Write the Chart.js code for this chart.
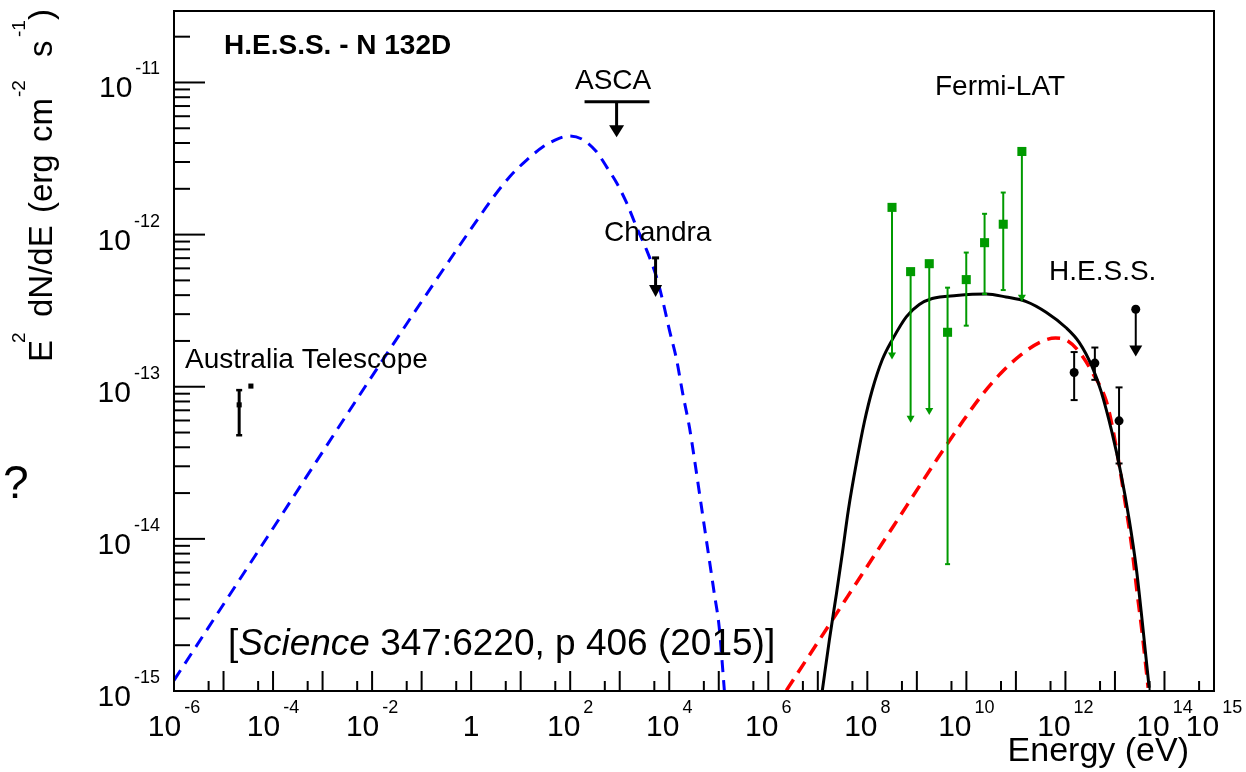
<!DOCTYPE html>
<html><head><meta charset="utf-8">
<script src="https://cdn.jsdelivr.net/npm/chart.js@4/dist/chart.umd.min.js"></script>
<style>html,body{margin:0;padding:0;background:#fff;}canvas{display:block;}</style>
</head><body>
<canvas id="c" width="1246" height="772"></canvas>
<script>
// ---------------- DATA (Energy in eV, E^2 dN/dE in erg cm^-2 s^-1) ----------------
// Synchrotron model (blue dashed)
const syncE = [1e-6, 1e-4, 1e-2, 0.1, 0.589, 1.49, 2.72, 6.0, 13.2, 27.8, 61.2, 97.5, 178, 341, 543, 865, 1374, 2188, 3483, 5546, 7328, 1.014e4, 1.406e4, 1.86e4, 2.57e4, 3.24e4, 4.07e4, 5.13e4, 6.46e4, 8.13e4, 1.02e5, 1.30e5];
const syncF = [1.175e-15, 1.175e-14, 1.175e-13, 3.63e-13, 8.51e-13, 1.318e-12, 1.738e-12, 2.40e-12, 3.09e-12, 3.76e-12, 4.31e-12, 4.45e-12, 4.22e-12, 3.50e-12, 2.79e-12, 2.19e-12, 1.62e-12, 1.12e-12, 7.94e-13, 5.25e-13, 3.72e-13, 2.34e-13, 1.51e-13, 9.12e-14, 5.37e-14, 3.31e-14, 2.0e-14, 1.20e-14, 7.24e-15, 4.37e-15, 2.63e-15, 1.0e-15];
// Inverse Compton model (red dashed)
const icE = [2.32e6, 1.0e7, 3.98e7, 1.58e8, 6.31e8, 2.51e9, 7.94e9, 2.0e10, 5.01e10, 1.26e11, 3.16e11, 6.31e11, 1.12e12, 2.0e12, 3.55e12, 6.61e12, 8.71e12, 1.20e13, 1.66e13, 2.14e13, 2.82e13, 3.55e13, 4.68e13];
const icF = [1.01e-15, 2.09e-15, 4.17e-15, 8.32e-15, 1.66e-14, 3.31e-14, 5.75e-14, 8.71e-14, 1.23e-13, 1.62e-13, 1.97e-13, 2.09e-13, 2.0e-13, 1.66e-13, 1.23e-13, 8.13e-14, 5.62e-14, 3.16e-14, 1.62e-14, 9.33e-15, 4.37e-15, 2.40e-15, 1.05e-15];
// Hadronic / total model (black solid)
const totalE = [1.23e7, 1.71e7, 2.37e7, 3.13e7, 4.14e7, 6.01e7, 8.71e7, 1.26e8, 2.01e8, 3.20e8, 6.12e8, 1.12e9, 2.04e9, 6.31e9, 2.51e10, 6.31e10, 1.62e11, 4.07e11, 1.02e12, 1.91e12, 3.47e12, 5.25e12, 8.71e12, 1.32e13, 1.95e13, 2.69e13, 3.55e13, 4.90e13];
const totalF = [1.0e-15, 2.16e-15, 4.33e-15, 8.05e-15, 1.55e-14, 3.15e-14, 5.86e-14, 9.55e-14, 1.51e-13, 2.04e-13, 2.88e-13, 3.47e-13, 3.80e-13, 3.98e-13, 4.07e-13, 3.89e-13, 3.63e-13, 3.09e-13, 2.45e-13, 1.95e-13, 1.35e-13, 9.33e-14, 5.01e-14, 2.69e-14, 1.32e-14, 6.46e-15, 2.88e-15, 1.05e-15];
// Fermi-LAT
const fermiE  = [3.15e8, 7.48e8, 1.78e9, 4.17e9, 9.94e9, 2.33e10, 5.55e10, 1.32e11];
const fermiF  = [1.51e-12, 5.71e-13, 6.44e-13, 2.28e-13, 5.06e-13, 8.85e-13, 1.17e-12, 3.52e-12];
const fermiLo = [1.51e-13, 5.79e-14, 6.52e-14, 6.82e-15, 2.52e-13, 4.07e-13, 4.32e-13, 3.62e-13];
const fermiHi = [null, null, null, 4.48e-13, 7.62e-13, 1.37e-12, 1.89e-12, null];
const fermiUL = [true, true, true, false, false, false, false, true];
// H.E.S.S.
const hessE  = [1.50e12, 3.93e12, 1.21e13, 2.63e13];
const hessF  = [1.24e-13, 1.43e-13, 5.97e-14, 3.23e-13];
const hessLo = [8.17e-14, 1.11e-13, 3.13e-14, 1.58e-13];
const hessHi = [1.69e-13, 1.81e-13, 9.9e-14, null];
const hessUL = [false, false, false, true];
// Australia Telescope
const atcaE  = [2.07e-5, 3.57e-5];
const atcaF  = [7.6e-14, 1.01e-13];
const atcaLo = [4.8e-14, null];
const atcaHi = [9.5e-14, null];
// ASCA upper limit (band) and Chandra upper limit
const ascaEmin = 1.95e2, ascaEmax = 3.98e3, ascaE = 865, ascaF = 7.46e-12, ascaTip = 4.37e-12;
const chandraE = 5.30e3, chandraF = 7.03e-13, chandraTip = 3.89e-13;
// Axis ticks
const xMajorTicks = [1e-6,1e-5,1e-4,1e-3,1e-2,1e-1,1,1e1,1e2,1e3,1e4,1e5,1e6,1e7,1e8,1e9,1e10,1e11,1e12,1e13,1e14,1e15];
const xMinorTicks = [5e-6,5e-5,5e-4,5e-3,5e-2,5e-1,5,5e1,5e2,5e3,5e4,5e5,5e6,5e7,5e8,5e9,5e10,5e11,5e12,5e13,5e14];
const xLabelExps = [-6,-4,-2,0,2,4,6,8,10,12,14,15];
const yMajorTicks = [1e-15,1e-14,1e-13,1e-12,1e-11];
const yMinorMult = [2,3,4,5,6,7,8,9];
const yLabelExps = [-15,-14,-13,-12,-11];

const FONT = '"Liberation Sans", Arial, Helvetica, sans-serif';
const GREEN = '#009a00';

function pts(xs, ys){ return xs.map((x,i)=>({x:x, y:ys[i]})); }

function arrowHead(ctx, x, yTip, halfW, len){
  ctx.beginPath();
  ctx.moveTo(x, yTip);
  ctx.lineTo(x-halfW, yTip-len);
  ctx.lineTo(x+halfW, yTip-len);
  ctx.closePath();
  ctx.fill();
}
function vline(ctx,x,y1,y2){ctx.beginPath();ctx.moveTo(x,y1);ctx.lineTo(x,y2);ctx.stroke();}
function hline(ctx,x1,x2,y){ctx.beginPath();ctx.moveTo(x1,y);ctx.lineTo(x2,y);ctx.stroke();}

const rootPlugin = {
  id: 'rootStyle',
  afterDatasetsDraw(chart){
    const ctx = chart.ctx, xs = chart.scales.x, ys = chart.scales.y;
    const X = v=>xs.getPixelForValue(v), Y = v=>ys.getPixelForValue(v);
    ctx.save();
    // Fermi-LAT error bars / upper limits
    ctx.strokeStyle = GREEN; ctx.fillStyle = GREEN; ctx.lineWidth = 2;
    fermiE.forEach((e,i)=>{
      const x = X(e), y = Y(fermiF[i]);
      if (fermiUL[i]) {
        const yt = Y(fermiLo[i]);
        vline(ctx, x, y, yt-5);
        arrowHead(ctx, x, yt, 4, 7);
      } else {
        const yl = Y(fermiLo[i]), yh = Y(fermiHi[i]);
        vline(ctx, x, yh, yl);
        hline(ctx, x-2.5, x+2.5, yh);
        hline(ctx, x-2.5, x+2.5, yl);
      }
    });
    // H.E.S.S.
    ctx.strokeStyle = '#000'; ctx.fillStyle = '#000'; ctx.lineWidth = 2;
    hessE.forEach((e,i)=>{
      const x = X(e), y = Y(hessF[i]);
      if (hessUL[i]) {
        const yt = Y(hessLo[i]);
        vline(ctx, x, y, yt-8);
        arrowHead(ctx, x, yt, 6.5, 11);
      } else {
        const yl = Y(hessLo[i]), yh = Y(hessHi[i]);
        vline(ctx, x, yh, yl);
        hline(ctx, x-3.5, x+3.5, yh);
        hline(ctx, x-3.5, x+3.5, yl);
      }
    });
    // Australia Telescope
    ctx.lineWidth = 3;
    atcaE.forEach((e,i)=>{
      if (atcaLo[i] === null) return;
      const x = X(e), yl = Y(atcaLo[i]), yh = Y(atcaHi[i]);
      vline(ctx, x, yh, yl);
      ctx.lineWidth = 2.5;
      hline(ctx, x-3, x+3, yh);
      hline(ctx, x-3, x+3, yl);
      ctx.lineWidth = 3;
    });
    // ASCA
    ctx.lineWidth = 3;
    hline(ctx, X(ascaEmin), X(ascaEmax), Y(ascaF));
    vline(ctx, X(ascaE), Y(ascaF), Y(ascaTip)-10);
    arrowHead(ctx, X(ascaE), Y(ascaTip), 7.5, 12);
    // Chandra
    hline(ctx, X(chandraE)-3.5, X(chandraE)+3.5, Y(chandraF));
    vline(ctx, X(chandraE), Y(chandraF), Y(chandraTip)-10);
    arrowHead(ctx, X(chandraE), Y(chandraTip), 6.5, 12);
    ctx.restore();
  },
  afterDraw(chart){
    const ctx = chart.ctx, xs = chart.scales.x, ys = chart.scales.y, a = chart.chartArea;
    const X = v=>xs.getPixelForValue(v), Y = v=>ys.getPixelForValue(v);
    ctx.save();
    ctx.strokeStyle = '#000'; ctx.fillStyle = '#000';
    // frame
    ctx.lineWidth = 2;
    ctx.strokeRect(a.left, a.top, a.right - a.left, a.bottom - a.top);
    // x ticks (inside)
    xMajorTicks.forEach(v=>{ const x = X(v); vline(ctx, x, a.bottom, a.bottom-20); });
    xMinorTicks.forEach(v=>{ const x = X(v); vline(ctx, x, a.bottom, a.bottom-10); });
    // y ticks (inside)
    yMajorTicks.forEach(v=>{ const y = Y(v); hline(ctx, a.left, a.left+31, y);
      yMinorMult.forEach(m=>{ const vv = v*m; if (vv < ys.max) { const yy = Y(vv); hline(ctx, a.left, a.left+16, yy); } });
    });
    ctx.textBaseline = 'alphabetic';
    // x labels
    xLabelExps.forEach(p=>{
      const x = X(Math.pow(10,p));
      if (p === 0) {
        ctx.font = '30px ' + FONT; ctx.textAlign = 'center';
        ctx.fillText('1', x, a.bottom + 45);
        return;
      }
      ctx.font = '30px ' + FONT; const w1 = ctx.measureText('10').width;
      ctx.font = '18px ' + FONT; const es = String(p); const w2 = ctx.measureText(es).width;
      const start = x - (w1 + 3 + w2)/2;
      ctx.textAlign = 'left';
      ctx.font = '30px ' + FONT; ctx.fillText('10', start, a.bottom + 45);
      ctx.font = '18px ' + FONT; ctx.fillText(es, start + w1 + 3, a.bottom + 22);
    });
    // y labels
    yLabelExps.forEach(p=>{
      const y = Y(Math.pow(10,p));
      ctx.textAlign = 'right';
      ctx.font = '18px ' + FONT; const es = String(p); const w2 = ctx.measureText(es).width;
      ctx.fillText(es, 160, y - 8);
      ctx.font = '30px ' + FONT; ctx.fillText('10', 160 - w2 - 3, y + 15);
    });
    // x title
    ctx.font = '34px ' + FONT; ctx.textAlign = 'right';
    ctx.fillText('Energy (eV)', 1189, 761);
    // y title (rotated), pieces placed along the axis
    ctx.save();
    ctx.translate(52, 0); ctx.rotate(-Math.PI/2); ctx.textAlign = 'left';
    const big = '33px ' + FONT, sup = '19px ' + FONT;
    const pieces = [['E',362,big,0],['2',343,sup,-27],['dN/dE',317,big,0],['(erg',213,big,0],['cm',142,big,0],['-2',97,sup,-27],['s',57,big,0],['-1',37,sup,-27],[')',20,big,0]];
    pieces.forEach(([t,ys0,f,dv])=>{ ctx.font = f; ctx.fillText(t, -ys0, dv); });
    ctx.restore();
    // annotations
    ctx.textAlign = 'left';
    ctx.font = 'bold 28px ' + FONT; ctx.fillText('H.E.S.S. - N 132D', 224, 54);
    ctx.font = '28px ' + FONT;
    ctx.fillText('ASCA', 575, 89);
    ctx.fillText('Chandra', 604, 241);
    ctx.fillText('Fermi-LAT', 935, 95);
    ctx.fillText('H.E.S.S.', 1049, 280);
    ctx.fillText('Australia Telescope', 185, 368);
    // reference
    let cx = 228; const by = 655;
    ctx.font = '37px ' + FONT; ctx.fillText('[', cx, by); cx += ctx.measureText('[').width;
    ctx.font = 'italic 37px ' + FONT; ctx.fillText('Science', cx, by); cx += ctx.measureText('Science').width;
    ctx.font = '37px ' + FONT; ctx.fillText(' 347:6220, p 406 (2015)]', cx, by);
    // stray question mark at the left edge
    ctx.font = '46px ' + FONT; ctx.fillText('?', 3, 498);
    ctx.restore();
  }
};

new Chart(document.getElementById('c'), {
  type: 'scatter',
  data: { datasets: [
    { label: 'Fermi-LAT', data: pts(fermiE, fermiF), pointStyle: 'rect', pointRadius: 6.4, backgroundColor: GREEN, borderWidth: 0 },
    { label: 'H.E.S.S.', data: pts(hessE, hessF), pointStyle: 'circle', pointRadius: 4.5, backgroundColor: '#000', borderWidth: 0 },
    { label: 'Australia Telescope', data: pts(atcaE, atcaF), pointStyle: 'rect', pointRadius: 3.6, backgroundColor: '#000', borderWidth: 0 },
    { label: 'Total', data: pts(totalE, totalF), showLine: true, borderColor: '#000', borderWidth: 3, pointRadius: 0, cubicInterpolationMode: 'monotone', fill: false },
    { label: 'IC', data: pts(icE, icF), showLine: true, borderColor: '#ff0000', borderWidth: 3.5, borderDash: [13, 8], pointRadius: 0, cubicInterpolationMode: 'monotone', fill: false },
    { label: 'Synchrotron', data: pts(syncE, syncF), showLine: true, borderColor: '#0000ff', borderWidth: 3, borderDash: [12, 8], pointRadius: 0, cubicInterpolationMode: 'monotone', fill: false }
  ]},
  options: {
    responsive: false, devicePixelRatio: 1, animation: false, events: [],
    layout: { padding: { left: 174, top: 11, right: 32, bottom: 81 } },
    plugins: { legend: { display: false }, tooltip: { enabled: false } },
    scales: {
      x: { type: 'logarithmic', min: 1e-6, max: 1e15, display: false },
      y: { type: 'logarithmic', min: 1e-15, max: 2.95e-11, display: false }
    }
  },
  plugins: [rootPlugin]
});
</script>
</body></html>
